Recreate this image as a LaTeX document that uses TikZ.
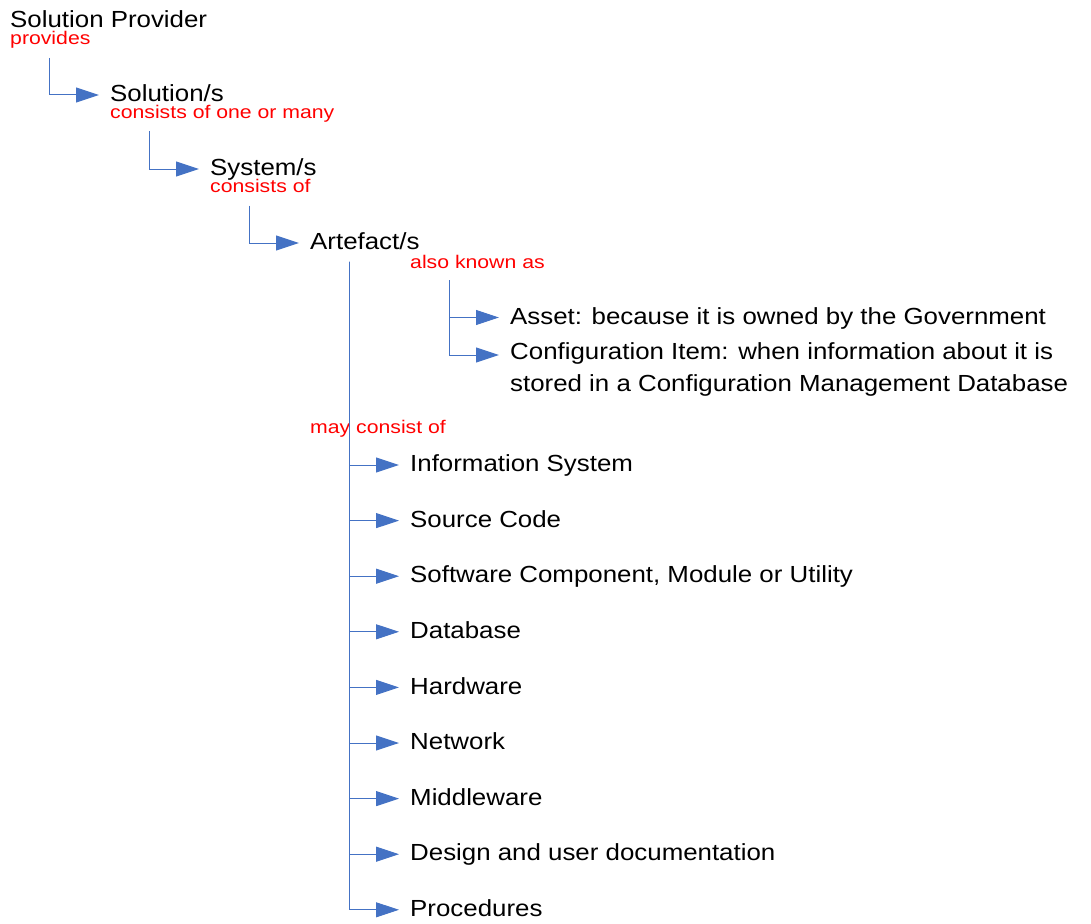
\documentclass[tikz,border=0pt]{standalone}
\usepackage{fontspec}
\setmainfont[FakeStretch=1.11]{Liberation Sans}
\newfontfamily\relfont[FakeStretch=1.16]{Liberation Sans}
\usetikzlibrary{arrows.meta}
\definecolor{linkblue}{RGB}{68,114,196}
\begin{document}
\begin{tikzpicture}[x=1pt, y=-1pt,
    term/.style={anchor=west, inner sep=0pt, text height=16.7pt, text depth=3.4pt, font=\fontsize{23.3}{31.5}\selectfont},
    rel/.style={anchor=base west, inner sep=0pt, text=red, font=\relfont\fontsize{18.3}{22}\selectfont},
    link/.style={linkblue, line width=1pt, -{Triangle[length=23pt,width=15pt]}, shorten >=11pt}]
    \useasboundingbox (0,0) rectangle (1091,923);

    % Chain of terms
    \node[term] (prov) at (10,21) {Solution Provider};
    \node[rel] (provides) at (10,45) {provides};
    \node[term] (sol) at (110,95) {Solution/s};
    \node[rel] (oneormany) at (110,118.3) {consists of one or many};
    \node[term] (sys) at (210,169) {System/s};
    \node[rel] (consists) at (210,192.7) {consists of};
    \node[term] (art) at (310,243) {Artefact/s};

    \draw[link] ([shift={(39pt,-13pt)}]provides.base west) |- (sol);
    \draw[link] ([shift={(39pt,-13pt)}]oneormany.base west) |- (sys);
    \draw[link] ([shift={(39pt,-13pt)}]consists.base west) |- (art);

    % Other names
    \node[rel] (aka) at (410,268.3) {also known as};
    \node[term] (asset) at (510,317.5) {Asset: because it is owned by the Government};
    \node[anchor=north west, inner sep=0pt, align=left, font=\fontsize{23.3}{31.5}\selectfont] (cfg) at (510,342.5)
        {Configuration Item: when information about it is\\stored in a Configuration Management Database};
    \coordinate (akatop) at ([shift={(39pt,-12pt)}]aka.base west);
    \draw[link] (akatop) |- (asset);
    \draw[link] (akatop) |- ([yshift=-12.5pt]cfg.north west);

    % Parts
    \node[rel] (may) at (310,433.3) {may consist of};
    \coordinate (trunk) at ([shift={(39pt,-12pt)}]art.base west);
    \foreach \txt [count=\i from 0] in {Information System, Source Code,
        {Software Component, Module or Utility}, Database, Hardware, Network,
        Middleware, Design and user documentation, Procedures} {
        \node[term] (part\i) at (410,{465+55.6*\i}) {\txt};
        \draw[link] (trunk) |- (part\i);
    }
\end{tikzpicture}
\end{document}
